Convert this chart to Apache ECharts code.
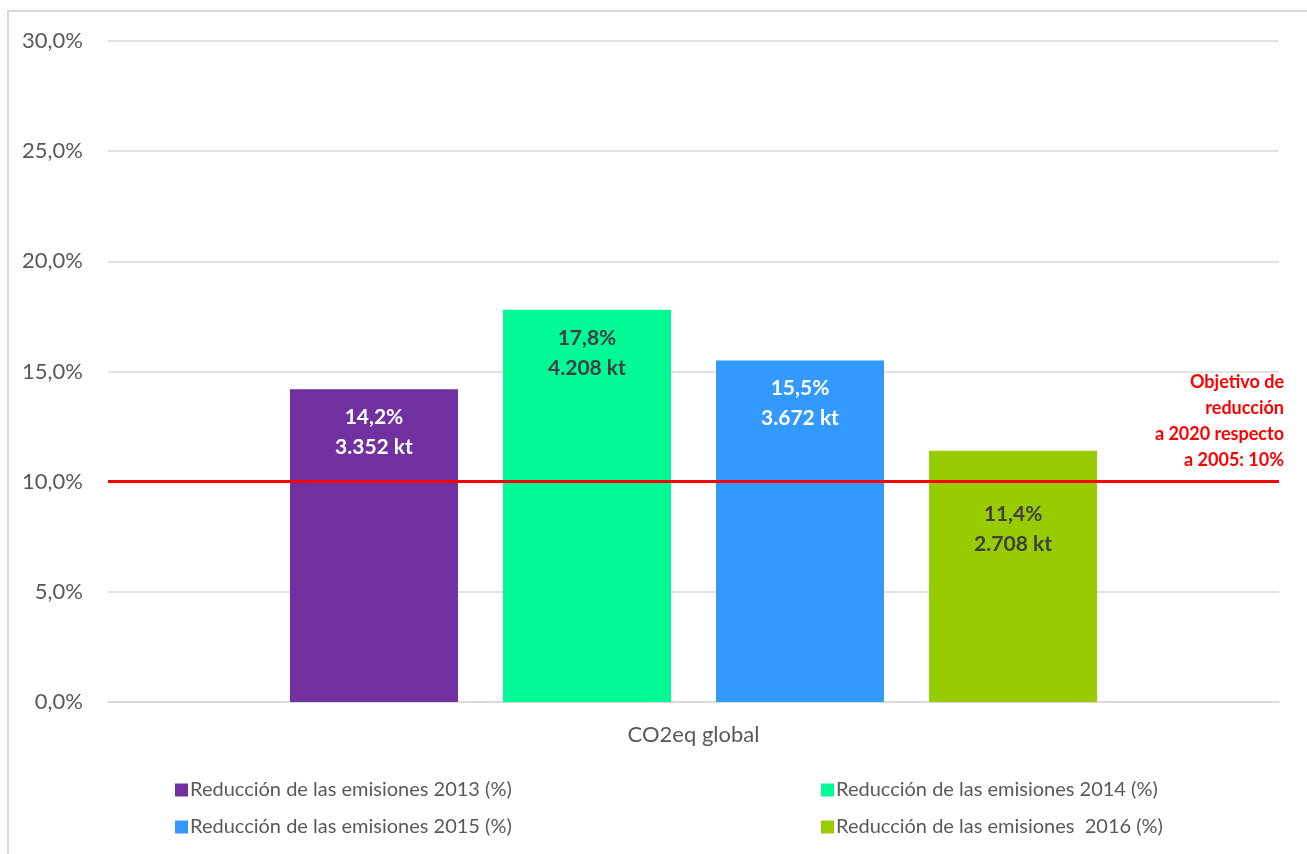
<!DOCTYPE html>
<html>
<head>
<meta charset="utf-8">
<script src="https://cdn.jsdelivr.net/npm/echarts@6/dist/echarts.min.js"></script>
<style>
  html, body { margin: 0; padding: 0; background: #fff; }
  #frame { position: absolute; left: 7px; top: 10px; width: 1320px; height: 870px; border: 2px solid #d9d9d9; box-sizing: border-box; }
  #chart { position: absolute; left: 0; top: 0; width: 1307px; height: 854px; }
</style>
</head>
<body>
<div id="frame"></div>
<div id="chart"></div>
<script>
// Categories, series and values
const categories = ['CO2eq global'];
const seriesNames = [
  'Reducción de las emisiones 2013 (%)',
  'Reducción de las emisiones 2014 (%)',
  'Reducción de las emisiones 2015 (%)',
  'Reducción de las emisiones  2016 (%)'
];
const reductionPct = [14.2, 17.8, 15.5, 11.4];
const reductionKt = ['3.352', '4.208', '3.672', '2.708'];
const barColors = ['#7030A0', '#00FA96', '#3399FF', '#99CC00'];
const labelColors = ['#ffffff', '#404040', '#ffffff', '#404040'];
const labelDistance = [13, 13, 13, 48];
const targetValue = 10;
const targetText = ['Objetivo de', 'reducción', 'a 2020 respecto', 'a 2005: 10%'];
const yTicks = [0, 5, 10, 15, 20, 25, 30];

const FONT = 'Lato, sans-serif';
const fmt = v => v.toFixed(1).replace('.', ',');

const chart = echarts.init(document.getElementById('chart'), null, { renderer: 'canvas' });

const series = seriesNames.map((name, i) => {
  const s = {
    name,
    type: 'bar',
    data: [reductionPct[i]],
    barWidth: 168,
    barGap: '26.8%',
    itemStyle: { color: barColors[i] },
    label: {
      show: true,
      position: 'insideTop',
      distance: labelDistance[i],
      formatter: () => fmt(reductionPct[i]) + '%\n' + reductionKt[i] + ' kt',
      color: labelColors[i],
      fontFamily: FONT,
      fontWeight: 'bold',
      fontSize: 21,
      lineHeight: 30
    }
  };
  if (i === 0) {
    s.markLine = {
      silent: true,
      symbol: 'none',
      lineStyle: { color: '#FF0000', width: 3, type: 'solid' },
      label: {
        show: true,
        position: 'insideEndTop',
        distance: [-5, 8],
        formatter: targetText.join('\n'),
        color: '#FF0000',
        fontFamily: FONT,
        fontWeight: 'bold',
        fontSize: 18,
        lineHeight: 26,
        align: 'right'
      },
      data: [{ yAxis: targetValue }]
    };
  }
  return s;
});

const legendCommon = {
  orient: 'vertical',
  itemWidth: 13,
  itemHeight: 13,
  itemGap: 17,
  icon: 'rect',
  textStyle: { fontFamily: FONT, fontSize: 20, color: '#595959', padding: [0, 0, 0, -3] }
};

chart.setOption({
  animation: false,
  textStyle: { fontFamily: FONT },
  grid: { left: 108, right: 28, top: 41, bottom: 152 },
  legend: [
    Object.assign({}, legendCommon, { left: 170, top: 775, data: [seriesNames[0], seriesNames[2]] }),
    Object.assign({}, legendCommon, { left: 816, top: 775, data: [seriesNames[1], seriesNames[3]] })
  ],
  xAxis: {
    type: 'category',
    data: categories,
    axisTick: { show: false },
    axisLine: { lineStyle: { color: '#d9d9d9', width: 1.5 } },
    axisLabel: { fontFamily: FONT, fontSize: 22, color: '#595959', margin: 22 }
  },
  yAxis: {
    type: 'value',
    min: yTicks[0],
    max: yTicks[yTicks.length - 1],
    interval: 5,
    axisLine: { show: false },
    axisTick: { show: false },
    splitLine: { lineStyle: { color: '#d9d9d9', width: 1.5 } },
    axisLabel: { fontFamily: FONT, fontSize: 22, color: '#595959', margin: 25, formatter: v => fmt(v) + '%' }
  },
  series
});
</script>
</body>
</html>
